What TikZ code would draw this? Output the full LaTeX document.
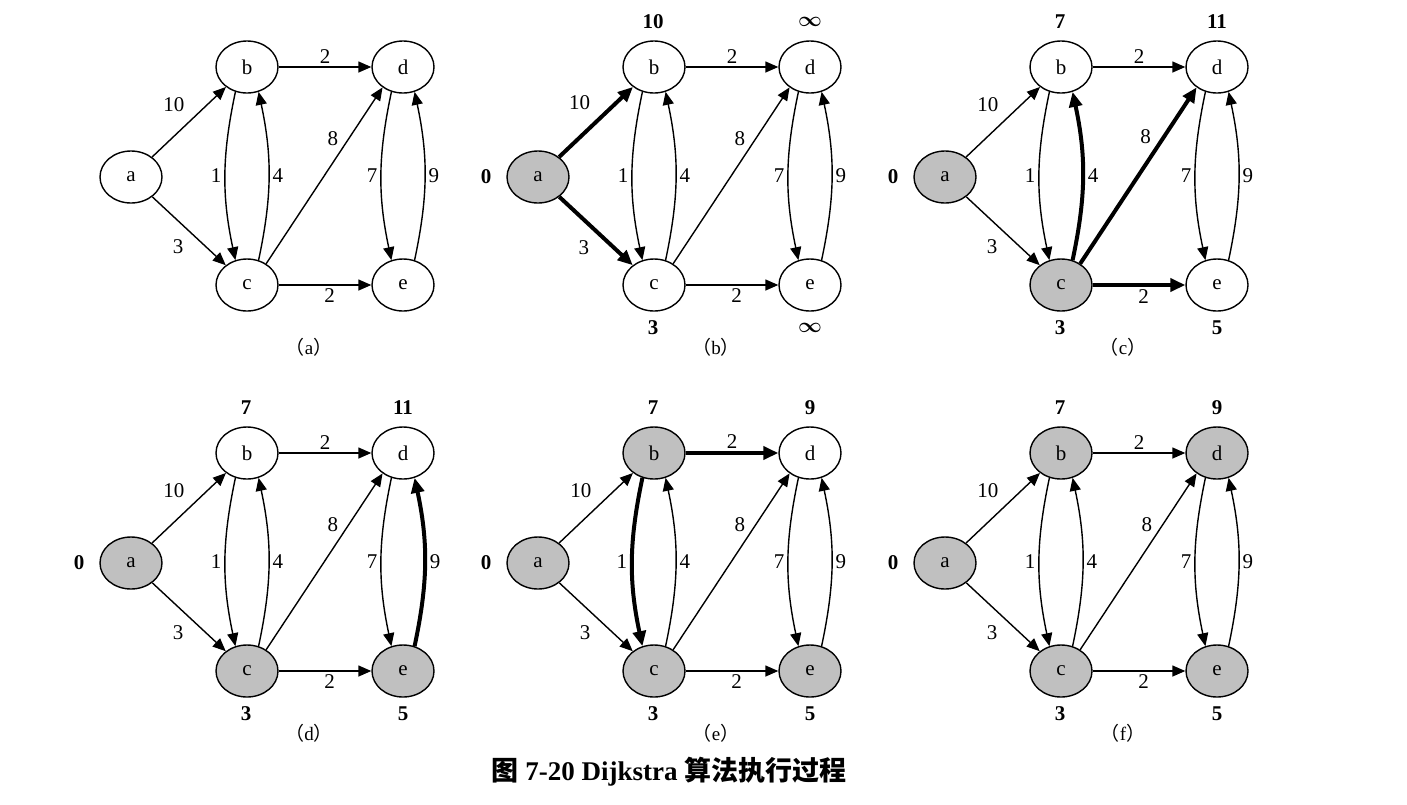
\documentclass[tikz,border=0pt]{standalone}
\usepackage{fontspec}
\setmainfont{Liberation Serif}
\newfontfamily\cjk{Noto Sans CJK SC}
\usetikzlibrary{arrows.meta,shapes.geometric}
\definecolor{DoneGray}{HTML}{C0C0C0}

\tikzset{
  vertex/.style={ellipse, draw, line width=1.4pt, fill=white, minimum width=62pt,
    minimum height=52pt, inner sep=0pt, font=\fontsize{21}{23}\selectfont},
  visited/.style={fill=DoneGray},
  link/.style={line width=1.4pt, -{Triangle[length=13pt,width=11pt]}},
  relax/.style={line width=4pt, -{Triangle[length=15pt,width=13pt]}},
  weight/.style={font=\fontsize{21}{23}\selectfont, inner sep=3pt},
  dist/.style={font=\bfseries\boldmath\fontsize{21}{23}\selectfont, inner sep=0pt},
  caption/.style={font=\fontsize{19}{21}\selectfont, inner sep=0pt},
  % per-panel hooks, empty by default
  n-a/.style={}, n-b/.style={}, n-c/.style={}, n-d/.style={}, n-e/.style={},
  e-ab/.style={}, e-ac/.style={}, e-bc/.style={}, e-cb/.style={}, e-bd/.style={},
  e-cd/.style={}, e-ce/.style={}, e-de/.style={}, e-ed/.style={}
}

% one graph, drawn at panel-local pixel coordinates
\newcommand{\drawgraph}[1]{%
  \node[vertex, n-a] (a) at (131,177) {a};
  \node[vertex, n-b] (b) at (247,67) {b};
  \node[vertex, n-c] (c) at (247,285) {c};
  \node[vertex, n-d] (d) at (403,67) {d};
  \node[vertex, n-e] (e) at (403,285) {e};
  \draw[link, e-ab] (a) -- node[weight, above left=5pt, xshift=4pt, yshift=2pt] {10} (b);
  \draw[link, e-ac] (a) -- node[weight, below left=5pt, xshift=3pt] {3} (c);
  \draw[link, e-bc] (b.245) to[bend right=12] node[weight, left] {1} (c.115);
  \draw[link, e-cb] (c.65) to[bend right=12] node[weight, right] {4} (b.295);
  \draw[link, e-bd] (b) -- node[weight, above] {2} (d);
  \draw[link, e-cd] (c.48) -- node[weight, pos=0.65, above left] {8} (d.225);
  \draw[link, e-ce] (c) -- node[weight, pos=0.55, below] {2} (e);
  \draw[link, e-de] (d.245) to[bend right=12] node[weight, left] {7} (e.115);
  \draw[link, e-ed] (e.65) to[bend right=12] node[weight, right] {9} (d.295);
  \node[caption] (cap) at (309,347) {{\cjk （}#1{\cjk ）}};
}

% distance labels a..e
\newcommand{\distances}[5]{%
  \node[dist] (da) at (79,177) {#1};
  \node[dist] (db) at (246,22) {#2};
  \node[dist] (dc) at (246,328) {#3};
  \node[dist] (dd) at (403,22) {#4};
  \node[dist] (de) at (403,328) {#5};
}

\begin{document}
\begin{tikzpicture}[x=1pt, y=-1pt]
  \useasboundingbox (0,0) rectangle (1407,804);

  % (a) start
  \begin{scope}[name prefix=pa-]
    \drawgraph{a}
  \end{scope}

  % (b) source a
  \begin{scope}[shift={(407,0)}, name prefix=pb-, n-a/.style=visited,
      e-ab/.style=relax, e-ac/.style=relax]
    \drawgraph{b}
    \distances{0}{10}{3}{$\infty$}{$\infty$}
  \end{scope}

  % (c) c settled
  \begin{scope}[shift={(814,0)}, name prefix=pc-, n-a/.style=visited, n-c/.style=visited,
      e-cb/.style=relax, e-cd/.style=relax, e-ce/.style=relax]
    \drawgraph{c}
    \distances{0}{7}{3}{11}{5}
  \end{scope}

  % (d) e settled
  \begin{scope}[shift={(0,386)}, name prefix=pd-, n-a/.style=visited, n-c/.style=visited,
      n-e/.style=visited, e-ed/.style=relax]
    \drawgraph{d}
    \distances{0}{7}{3}{11}{5}
  \end{scope}

  % (e) b settled
  \begin{scope}[shift={(407,386)}, name prefix=pe-, n-a/.style=visited, n-b/.style=visited,
      n-c/.style=visited, n-e/.style=visited, e-bd/.style=relax, e-bc/.style=relax]
    \drawgraph{e}
    \distances{0}{7}{3}{9}{5}
  \end{scope}

  % (f) all settled
  \begin{scope}[shift={(814,386)}, name prefix=pf-, n-a/.style=visited, n-b/.style=visited,
      n-c/.style=visited, n-d/.style=visited, n-e/.style=visited]
    \drawgraph{f}
    \distances{0}{7}{3}{9}{5}
  \end{scope}

  % figure title
  \node[font=\bfseries\fontsize{27}{30}\selectfont, inner sep=0pt] (title) at (669,772)
    {{\cjk 图} 7-20 Dijkstra {\cjk 算法执行过程}};
\end{tikzpicture}
\end{document}
